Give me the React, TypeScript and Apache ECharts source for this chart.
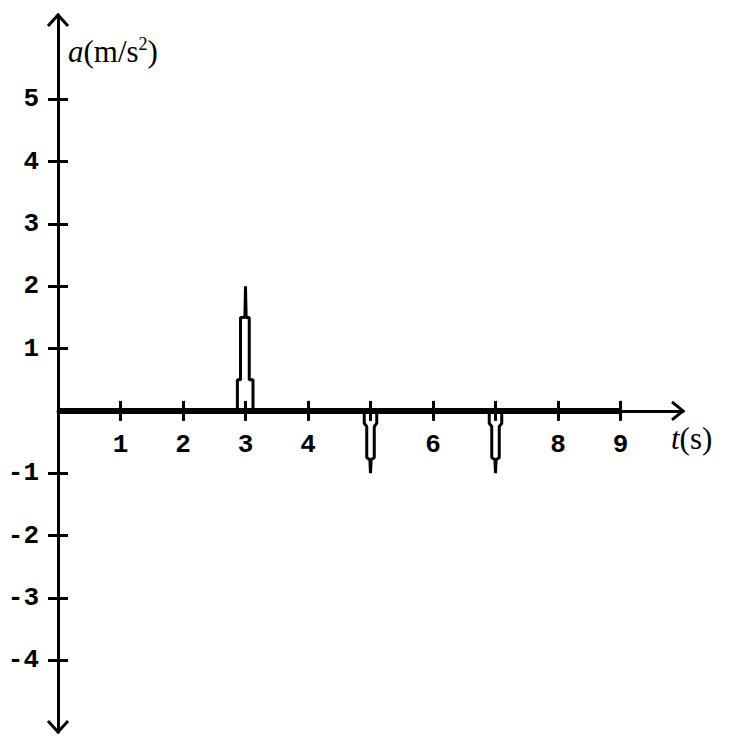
import React, { useEffect, useRef } from "react";
import * as echarts from "echarts";

// axis ranges / ticks
const xMin = 0;
const xMax = 10;
const yMin = -5.15;
const yMax = 6.35;
const xTickValues = [1, 2, 3, 4, 5, 6, 7, 8, 9];
const xLabelValues = [1, 2, 3, 4, 6, 8, 9];
const yTickValues = [-4, -3, -2, -1, 1, 2, 3, 4, 5];
const yLabelValues = [-4, -3, -2, -1, 1, 2, 3, 4, 5];

// baseline a = 0 from t = 0 to t = 9
const baseT = [0, 9];
const baseA = [0, 0];

// pulse at t = 3 (up to 2 m/s^2)
const spike3T = [2.87, 2.87, 2.92, 2.92, 2.99, 3.0, 3.01, 3.06, 3.06, 3.12, 3.12];
const spike3A = [0, 0.5, 0.5, 1.5, 1.5, 2.0, 1.5, 1.5, 0.5, 0.5, 0];

// dips at t = 5 and t = 7 (down to -1 m/s^2)
const dip5T = [4.9, 4.9, 4.94, 4.94, 4.99, 5.0, 5.01, 5.06, 5.06, 5.1, 5.1];
const dip5A = [0, -0.2, -0.25, -0.75, -0.78, -1.0, -0.78, -0.75, -0.25, -0.2, 0];
const dip7T = [6.9, 6.9, 6.94, 6.94, 6.99, 7.0, 7.01, 7.06, 7.06, 7.1, 7.1];
const dip7A = [0, -0.2, -0.25, -0.75, -0.78, -1.0, -0.78, -0.75, -0.25, -0.2, 0];

const zip = (xs: number[], ys: number[]) => xs.map((x, i) => [x, ys[i]]);

const W = 737;
const H = 741;
const GRID_LEFT = 58;
const GRID_RIGHT = 54;
const GRID_TOP = 15;
const GRID_BOTTOM = 9;

export default function App() {
  const ref = useRef<HTMLDivElement>(null);
  useEffect(() => {
    if (!ref.current) return;
    const chart = echarts.init(ref.current, undefined, { renderer: "svg" });
    const labelFont = {
      fontFamily: "Liberation Mono",
      fontWeight: "bold" as const,
      fontSize: 26,
      color: "#000",
    };
    const lineStyle = { color: "#000", width: 3 };
    // pixel row of a = 0 inside the main grid (from the y range)
    const plotH = H - GRID_TOP - GRID_BOTTOM;
    const zeroY = GRID_TOP + (yMax / (yMax - yMin)) * plotH;
    chart.setOption({
      animation: false,
      backgroundColor: "#fff",
      grid: [
        { left: GRID_LEFT, right: GRID_RIGHT, top: GRID_TOP, bottom: GRID_BOTTOM, containLabel: false, outerBoundsMode: "none" },
        { left: GRID_LEFT, right: GRID_RIGHT, top: GRID_TOP, bottom: H - zeroY, containLabel: false, outerBoundsMode: "none" },
      ],
      xAxis: [
        {
          gridIndex: 0,
          type: "value",
          min: xMin,
          max: xMax,
          show: false,
        },
        {
          gridIndex: 1,
          type: "value",
          min: xMin,
          max: xMax,
          position: "bottom",
          axisLine: { show: true, onZero: false, lineStyle },
          axisTick: { show: true, length: 10, lineStyle, customValues: xTickValues },
          axisLabel: { show: true, margin: 21, customValues: xLabelValues, ...labelFont },
          splitLine: { show: false },
        },
        {
          gridIndex: 1,
          type: "value",
          min: xMin,
          max: xMax,
          position: "bottom",
          axisLine: { show: false, onZero: false },
          axisTick: { show: true, inside: true, length: 10, lineStyle, customValues: xTickValues },
          axisLabel: { show: false },
          splitLine: { show: false },
        },
      ],
      yAxis: [
        {
          gridIndex: 0,
          type: "value",
          min: yMin,
          max: yMax,
          position: "left",
          axisLine: { show: true, onZero: false, lineStyle },
          axisTick: { show: true, length: 10, lineStyle, customValues: yTickValues },
          axisLabel: { show: true, margin: 19, customValues: yLabelValues, ...labelFont },
          splitLine: { show: false },
        },
        {
          gridIndex: 0,
          type: "value",
          min: yMin,
          max: yMax,
          position: "left",
          axisLine: { show: false, onZero: false },
          axisTick: { show: true, inside: true, length: 10, lineStyle, customValues: yTickValues },
          axisLabel: { show: false },
          splitLine: { show: false },
        },
        {
          gridIndex: 1,
          type: "value",
          min: 0,
          max: yMax,
          show: false,
        },
      ],
      series: [
        {
          type: "line",
          xAxisIndex: 0,
          yAxisIndex: 0,
          data: zip(baseT, baseA),
          symbol: "none",
          lineStyle: { color: "#000", width: 6 },
          z: 3,
        },
        {
          type: "line",
          xAxisIndex: 0,
          yAxisIndex: 0,
          data: zip(spike3T, spike3A),
          symbol: "none",
          lineStyle: { color: "#000", width: 3 },
          z: 4,
        },
        {
          type: "line",
          xAxisIndex: 0,
          yAxisIndex: 0,
          data: zip(dip5T, dip5A),
          symbol: "none",
          lineStyle: { color: "#000", width: 3 },
          z: 4,
        },
        {
          type: "line",
          xAxisIndex: 0,
          yAxisIndex: 0,
          data: zip(dip7T, dip7A),
          symbol: "none",
          lineStyle: { color: "#000", width: 3 },
          z: 4,
        },
      ],
    });

    // arrows and axis names placed from the axes' own scales
    const p = (x: number, y: number) =>
      chart.convertToPixel({ xAxisIndex: 0, yAxisIndex: 0 }, [x, y]) as number[];
    const top = p(0, yMax);
    const bottom = p(0, yMin);
    const right = p(xMax, 0);
    const arrowStyle = { stroke: "#000", lineWidth: 3, fill: "none" };
    chart.setOption({
      graphic: [
        {
          type: "polyline",
          shape: { points: [[top[0] - 10, top[1] + 11], [top[0], top[1]], [top[0] + 10, top[1] + 11]] },
          style: arrowStyle,
          z: 10,
        },
        {
          type: "polyline",
          shape: { points: [[bottom[0] - 10, bottom[1] - 11], [bottom[0], bottom[1]], [bottom[0] + 10, bottom[1] - 11]] },
          style: arrowStyle,
          z: 10,
        },
        {
          type: "polyline",
          shape: { points: [[right[0] - 11, right[1] - 9], [right[0], right[1]], [right[0] - 11, right[1] + 9]] },
          style: arrowStyle,
          z: 10,
        },
        {
          type: "text",
          x: top[0] + 10,
          y: top[1] + 20,
          style: {
            text: "{i|a}{n|(m/s}{s|2}{n|)}",
            rich: {
              i: { fontFamily: "Liberation Serif", fontStyle: "italic", fontSize: 31, fill: "#000", verticalAlign: "bottom" },
              n: { fontFamily: "Liberation Serif", fontSize: 31, fill: "#000", verticalAlign: "bottom" },
              s: { fontFamily: "Liberation Serif", fontSize: 18, fill: "#000", verticalAlign: "top", padding: [0, 0, 14, 0] },
            },
          },
        },
        {
          type: "text",
          x: right[0] - 12,
          y: right[1] + 12,
          style: {
            text: "{i|t}{n|(s)}",
            rich: {
              i: { fontFamily: "Liberation Serif", fontStyle: "italic", fontSize: 31, fill: "#000" },
              n: { fontFamily: "Liberation Serif", fontSize: 31, fill: "#000" },
            },
          },
        },
      ],
    });
    return () => chart.dispose();
  }, []);
  return <div ref={ref} style={{ width: W, height: H, position: "absolute", left: 0, top: 0 }} />;
}
